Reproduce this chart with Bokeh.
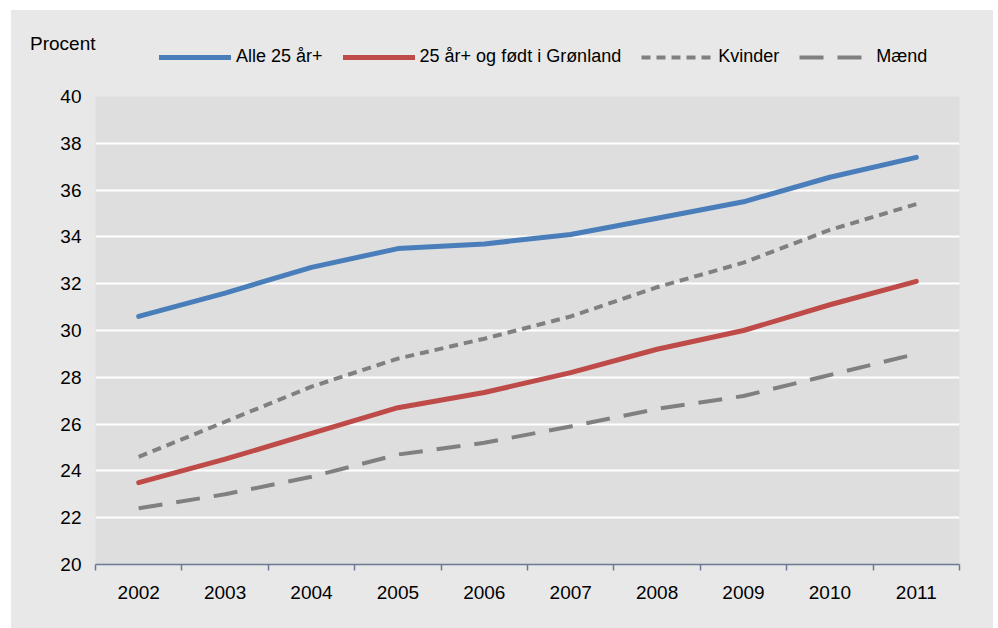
from bokeh.plotting import figure
from bokeh.models import FixedTicker, Legend, LegendItem, Range1d
from bokeh.layouts import column
from bokeh.embed import file_html
from bokeh.resources import INLINE

years = [2002, 2003, 2004, 2005, 2006, 2007, 2008, 2009, 2010, 2011]
alle = [30.6, 31.6, 32.7, 33.5, 33.7, 34.1, 34.8, 35.5, 36.55, 37.4]
groenland = [23.5, 24.5, 25.6, 26.7, 27.35, 28.2, 29.2, 30.0, 31.1, 32.1]
kvinder = [24.6, 26.1, 27.6, 28.8, 29.65, 30.6, 31.85, 32.9, 34.3, 35.4]
maend = [22.4, 23.0, 23.75, 24.7, 25.2, 25.9, 26.65, 27.2, 28.1, 29.0]
y_ticks = [20, 22, 24, 26, 28, 30, 32, 34, 36, 38, 40]
labels = ["Alle 25 år+", "25 år+ og født i Grønland", "Kvinder", "Mænd"]
unit_label = "Procent"

FONT = "Liberation Sans"
BG = "#e8e8e8"

series = [
    (alle, dict(line_color="#4a7ebb", line_width=5, line_cap="round", line_join="round")),
    (groenland, dict(line_color="#be4b48", line_width=5, line_cap="round", line_join="round")),
    (kvinder, dict(line_color="#808080", line_width=4, line_dash="9 6", line_join="round")),
    (maend, dict(line_color="#808080", line_width=4, line_dash="24 14", line_join="round")),
]

# ---- main chart ----
p = figure(width=982, height=542, output_backend="svg", toolbar_location=None,
           x_range=Range1d(years[0] - 0.5, years[-1] + 0.5),
           y_range=Range1d(y_ticks[0], y_ticks[-1]))
p.min_border_left = 84
p.min_border_right = 34
p.min_border_top = 10
p.min_border_bottom = 64
p.border_fill_color = BG
p.background_fill_color = "#dedede"
p.outline_line_color = None

p.xaxis.ticker = FixedTicker(ticks=years,
                             minor_ticks=[y - 0.5 for y in years] + [years[-1] + 0.5])
p.xaxis.major_tick_line_color = None
p.xaxis.major_tick_out = 0
p.xaxis.major_tick_in = 0
p.xaxis.minor_tick_line_color = "#6b7a94"
p.xaxis.minor_tick_line_width = 1.5
p.xaxis.minor_tick_out = 6
p.xaxis.minor_tick_in = 0
p.xaxis.axis_line_color = "#6b7a94"
p.xaxis.axis_line_width = 1.5
p.xaxis.major_label_standoff = 15
p.xgrid.grid_line_color = None

p.yaxis.ticker = FixedTicker(ticks=y_ticks)
p.yaxis.axis_line_color = None
p.yaxis.major_tick_line_color = None
p.yaxis.major_tick_out = 0
p.yaxis.minor_tick_line_color = None
p.yaxis.major_label_standoff = 14
p.ygrid.grid_line_color = "white"
p.ygrid.grid_line_width = 2

for ax in (p.xaxis[0], p.yaxis[0]):
    ax.major_label_text_font = FONT
    ax.major_label_text_font_size = "19px"
    ax.major_label_text_color = "black"

for vals, style in series:
    p.line(years, vals, **style)

# ---- header with legend and unit label ----
h = figure(width=982, height=76, output_backend="svg", toolbar_location=None,
           x_axis_location=None, y_axis_location="left",
           x_range=Range1d(0, 1), y_range=Range1d(0, 1))
h.min_border_left = 84
h.min_border_right = 34
h.min_border_top = 0
h.min_border_bottom = 10
h.border_fill_color = BG
h.background_fill_color = BG
h.outline_line_color = None
h.grid.visible = False

hy = h.yaxis[0]
hy.ticker = FixedTicker(ticks=[])
hy.axis_line_color = None
hy.major_tick_line_color = None
hy.minor_tick_line_color = None
hy.major_label_text_font_size = "0px"
hy.axis_label = unit_label
hy.axis_label_text_font = FONT
hy.axis_label_text_font_size = "19px"
hy.axis_label_text_font_style = "normal"
hy.axis_label_text_color = "black"
hy.axis_label_standoff = 0
try:
    hy.axis_label_orientation = "horizontal"
except Exception:
    pass

# legend glyphs: same series, drawn outside the header's visible range
items = []
for (vals, style), lab in zip(series, labels):
    r = h.line(years, vals, **style)
    items.append(LegendItem(label=lab, renderers=[r]))

legend = Legend(items=items, orientation="horizontal", location=(64, 9),
                glyph_width=72, glyph_height=20, label_standoff=5, spacing=20,
                padding=2, margin=0,
                background_fill_alpha=0, border_line_color=None,
                label_text_font=FONT, label_text_font_size="18px",
                label_text_color="black")
h.add_layout(legend, "center")

layout = column(h, p, spacing=0)
layout.margin = (10, 0, 0, 11)
layout.styles = {"background-color": BG}

open("out.html", "w").write(file_html(layout, INLINE))
